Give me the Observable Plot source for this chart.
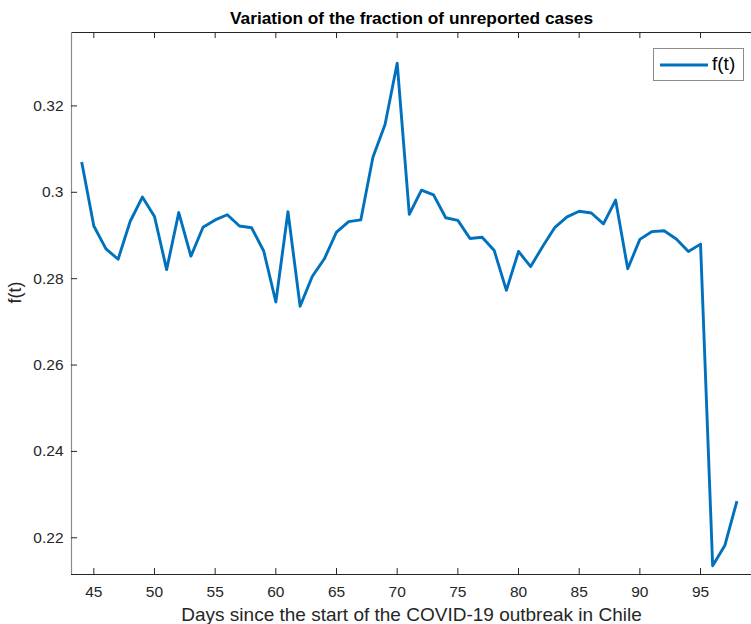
<!DOCTYPE html>
<html>
<head>
<meta charset="utf-8">
<script src="https://cdn.jsdelivr.net/npm/d3@7"></script>
<script src="https://cdn.jsdelivr.net/npm/@observablehq/plot@0.6"></script>
<style>
  html, body { margin: 0; padding: 0; background: #fff; }
  #wrap { position: relative; width: 751px; height: 624px; overflow: hidden; font-family: "Liberation Sans", Arial, Helvetica, sans-serif; }
  #legend { position: absolute; left: 653px; top: 48px; width: 91px; height: 33px; border: 1px solid #8c8c8c; background: #fff; box-sizing: border-box; }
  #legend svg { position: absolute; left: 0; top: 0; }
  #legend span { position: absolute; left: 58px; top: 4px; font-size: 19px; line-height: 22px; color: #000; }
</style>
</head>
<body>
<div id="wrap"></div>
<script>
const title = "Variation of the fraction of unreported cases";
const xLabel = "Days since the start of the COVID-19 outbreak in Chile";
const yLabel = "f(t)";
const seriesName = "f(t)";

const days = [44,45,46,47,48,49,50,51,52,53,54,55,56,57,58,59,60,61,62,63,64,65,66,67,68,69,70,71,72,73,74,75,76,77,78,79,80,81,82,83,84,85,86,87,88,89,90,91,92,93,94,95,96,97,98];
const fValues = [0.3070,0.2922,0.2869,0.2845,0.2933,0.2989,0.2944,0.2821,0.2953,0.2852,0.2919,0.2936,0.2948,0.2922,0.2918,0.2864,0.2746,0.2955,0.2736,0.2805,0.2846,0.2908,0.2932,0.2936,0.3081,0.3157,0.3299,0.2949,0.3005,0.2994,0.2941,0.2935,0.2893,0.2896,0.2865,0.2773,0.2863,0.2828,0.2875,0.2919,0.2943,0.2956,0.2952,0.2927,0.2982,0.2823,0.2891,0.2909,0.2911,0.2892,0.2863,0.2880,0.2135,0.2182,0.2285];

const xTicks = [45,50,55,60,65,70,75,80,85,90,95];
const yTicks = [0.22,0.24,0.26,0.28,0.30,0.32];
const yTickLabels = ["0.22","0.24","0.26","0.28","0.3","0.32"];

const xDomain = [43.16, 99.2];
const yDomain = [0.2115, 0.337];

const data = days.map((d, i) => ({day: d, f: fValues[i]}));

const W = 751, H = 624, mT = 32, mB = 50, mL = 71, mR = 0;
const plotH = H - mT - mB;
const axisColor = "#262626";
const font = "'Liberation Sans', Arial, Helvetica, sans-serif";

const chart = Plot.plot({
  width: W,
  height: H,
  marginTop: mT,
  marginBottom: mB,
  marginLeft: mL,
  marginRight: mR,
  style: {fontFamily: font, background: "#fff", color: axisColor},
  x: {domain: xDomain},
  y: {domain: yDomain},
  marks: [
    Plot.ruleY([yDomain[0], yDomain[1]], {stroke: axisColor, strokeWidth: 1}),
    Plot.ruleX([xDomain[0]], {stroke: "#8a8a8a", strokeWidth: 1.2}),
    Plot.ruleX(xTicks, {stroke: axisColor, strokeWidth: 1, insetTop: plotH - 6}),
    Plot.ruleX(xTicks, {stroke: axisColor, strokeWidth: 1, insetBottom: plotH - 6}),
    Plot.ruleY(yTicks, {stroke: axisColor, strokeWidth: 1, insetRight: (W - mL - mR) - 6}),
    Plot.axisX({ticks: xTicks, tickSize: 0, tickPadding: 11, fontSize: 15.5, label: null, tickFormat: d => String(d), color: axisColor}),
    Plot.axisY({ticks: yTicks, tickSize: 0, tickPadding: 8, fontSize: 15.5, label: null, tickFormat: d => yTickLabels[yTicks.indexOf(d)] ?? String(d), color: axisColor}),
    Plot.line(data, {x: "day", y: "f", stroke: "#0072BD", strokeWidth: 2.9, strokeLinejoin: "round", strokeLinecap: "butt"}),
    Plot.text([title], {text: d => d, frameAnchor: "top", lineAnchor: "bottom", dy: -9, fontSize: 17.3, fontWeight: "bold", fill: "#000"}),
    Plot.text([xLabel], {text: d => d, frameAnchor: "bottom", lineAnchor: "middle", dy: 40, fontSize: 19, fill: axisColor}),
    Plot.text([yLabel], {text: d => d, frameAnchor: "left", lineAnchor: "middle", rotate: -90, dx: -56, fontSize: 18, fill: axisColor})
  ]
});

const wrap = document.getElementById("wrap");
wrap.appendChild(chart);

const legend = document.createElement("div");
legend.id = "legend";
legend.innerHTML = `<svg width="91" height="33"><line x1="6" x2="54" y1="16" y2="16" stroke="#0072BD" stroke-width="2.9"></line></svg><span>${seriesName}</span>`;
wrap.appendChild(legend);
</script>
</body>
</html>
